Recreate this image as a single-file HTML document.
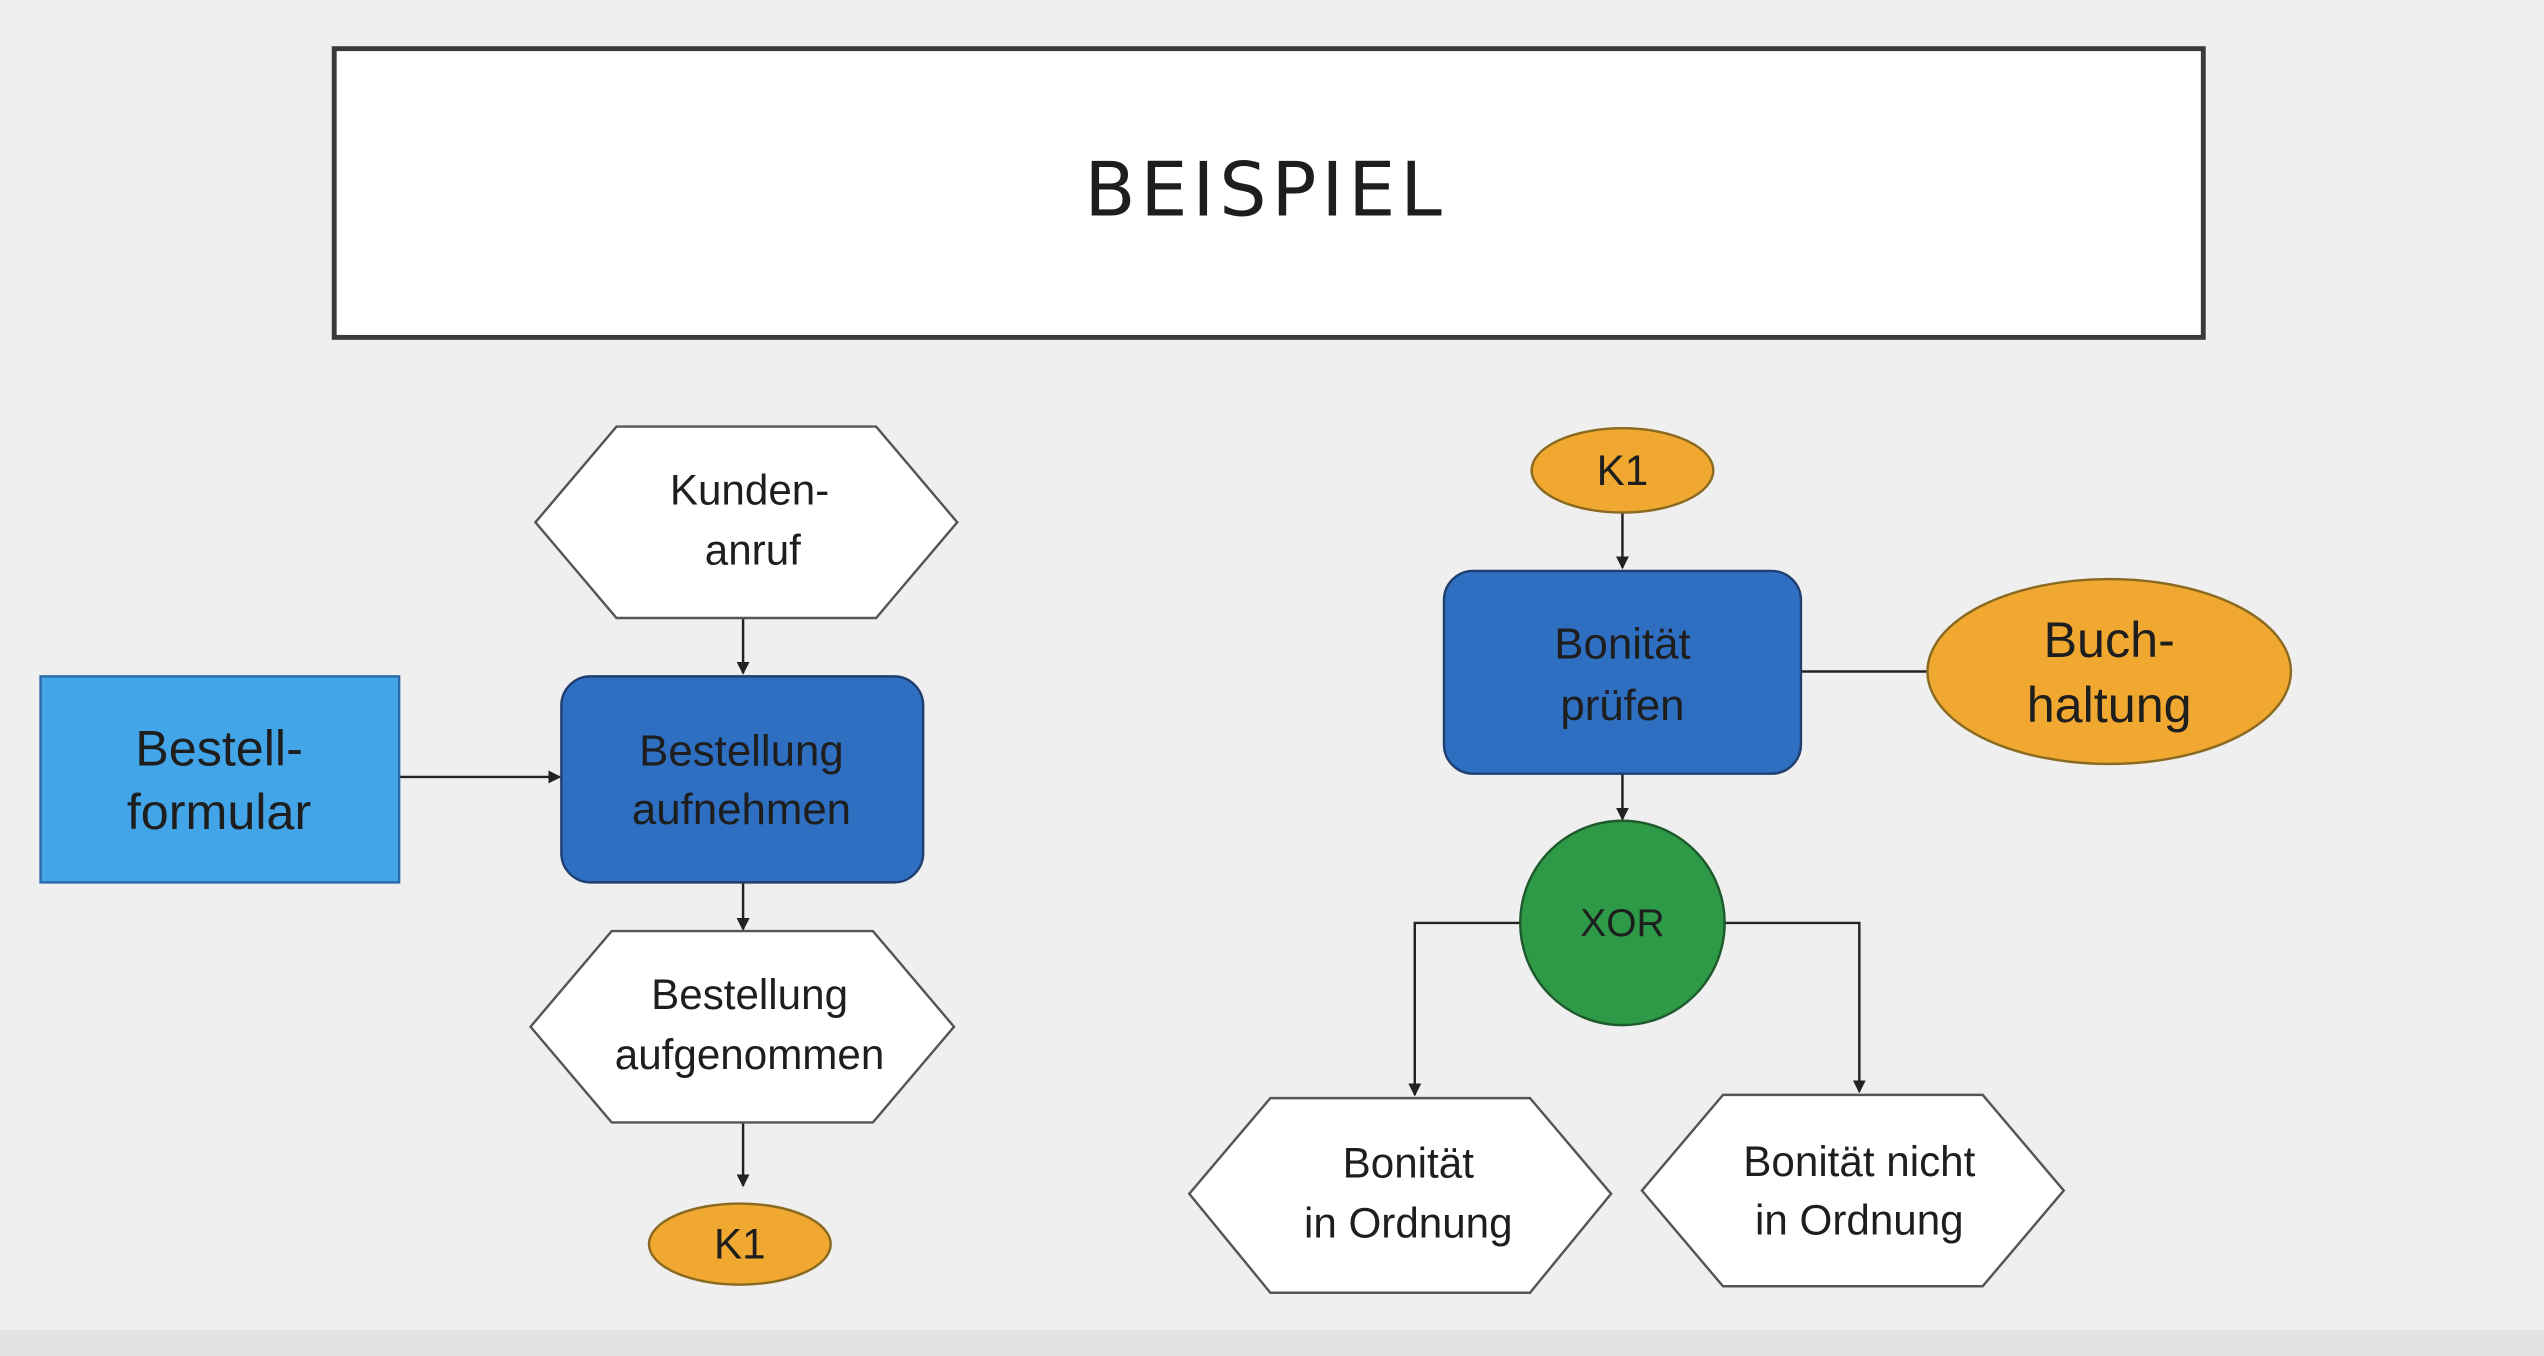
<!DOCTYPE html>
<html><head><meta charset="utf-8"><style>
html,body{margin:0;padding:0;background:#efefef;}
svg{display:block}
text{font-family:"Liberation Sans",Arial,sans-serif;text-anchor:middle;fill:#1e1e1e}
</style></head><body>
<svg width="2544" height="1356" viewBox="0 0 1568 836" preserveAspectRatio="none" xmlns="http://www.w3.org/2000/svg">
<defs>
<marker id="a" markerWidth="8" markerHeight="8" refX="7" refY="4" orient="auto" markerUnits="userSpaceOnUse">
<path d="M0,0 L8,4 L0,8 z" fill="#222"/></marker>
</defs>
<rect width="1568" height="836" fill="#efefef"/>
<rect x="0" y="820" width="1568" height="16" fill="#e2e2e2"/>
<rect x="206" y="30" width="1152" height="178" fill="#fff" stroke="#3a3a3a" stroke-width="3"/>
<text x="780" y="133" font-size="46" letter-spacing="3" style="font-family:'DejaVu Sans','Liberation Sans',sans-serif">BEISPIEL</text>

<g stroke="#222" stroke-width="1.5" fill="none">
<line x1="458" y1="381" x2="458" y2="415" marker-end="url(#a)"/>
<line x1="246" y1="479" x2="345" y2="479" marker-end="url(#a)"/>
<line x1="458" y1="544" x2="458" y2="573" marker-end="url(#a)"/>
<line x1="458" y1="692" x2="458" y2="731" marker-end="url(#a)"/>
<line x1="1000" y1="316" x2="1000" y2="350" marker-end="url(#a)"/>
<line x1="1110" y1="414" x2="1190" y2="414"/>
<line x1="1000" y1="477" x2="1000" y2="505" marker-end="url(#a)"/>
<polyline points="937,569 872,569 872,675" marker-end="url(#a)"/>
<polyline points="1063,569 1146,569 1146,673" marker-end="url(#a)"/>
</g>

<g stroke="#555" stroke-width="1.5" fill="#fff">
<polygon points="330,322 380,263 540,263 590,322 540,381 380,381"/>
<polygon points="327,633 377,574 538,574 588,633 538,692 377,692"/>
<polygon points="733,736 783,677 943,677 993,736 943,797 783,797"/>
<polygon points="1012,734 1062,675 1222,675 1272,734 1222,793 1062,793"/>
</g>
<rect x="25" y="417" width="221" height="127" fill="#42a5e8" stroke="#2b6aa8" stroke-width="1.5"/>
<rect x="346" y="417" width="223" height="127" rx="18" fill="#2f6fc2" stroke="#1f3f70" stroke-width="1.5"/>
<rect x="890" y="352" width="220" height="125" rx="18" fill="#2f6fc2" stroke="#1f3f70" stroke-width="1.5"/>
<ellipse cx="456" cy="767" rx="56" ry="25" fill="#f0a830" stroke="#8a6a20" stroke-width="1.5"/>
<ellipse cx="1000" cy="290" rx="56" ry="26" fill="#f0a830" stroke="#8a6a20" stroke-width="1.5"/>
<ellipse cx="1300" cy="414" rx="112" ry="57" fill="#f0a830" stroke="#8a6a20" stroke-width="1.5"/>
<circle cx="1000" cy="569" r="63" fill="#2e9a48" stroke="#1d5a2c" stroke-width="1.5"/>

<g font-size="26">
<text x="462" y="311">Kunden-</text><text x="464" y="348">anruf</text>
<text x="135" y="472" font-size="31">Bestell-</text><text x="135" y="511" font-size="31">formular</text>
<text x="457" y="472" font-size="27">Bestellung</text><text x="457" y="508" font-size="27">aufnehmen</text>
<text x="462" y="622">Bestellung</text><text x="462" y="659">aufgenommen</text>
<text x="456" y="776">K1</text>
<text x="1000" y="299">K1</text>
<text x="1000" y="406" font-size="27">Bonität</text><text x="1000" y="444" font-size="27">prüfen</text>
<text x="1300" y="405" font-size="31">Buch-</text><text x="1300" y="445" font-size="31">haltung</text>
<text x="1000" y="577" font-size="24">XOR</text>
<text x="868" y="726">Bonität</text><text x="868" y="763">in Ordnung</text>
<text x="1146" y="725">Bonität nicht</text><text x="1146" y="761">in Ordnung</text>
</g>
</svg>
</body></html>
